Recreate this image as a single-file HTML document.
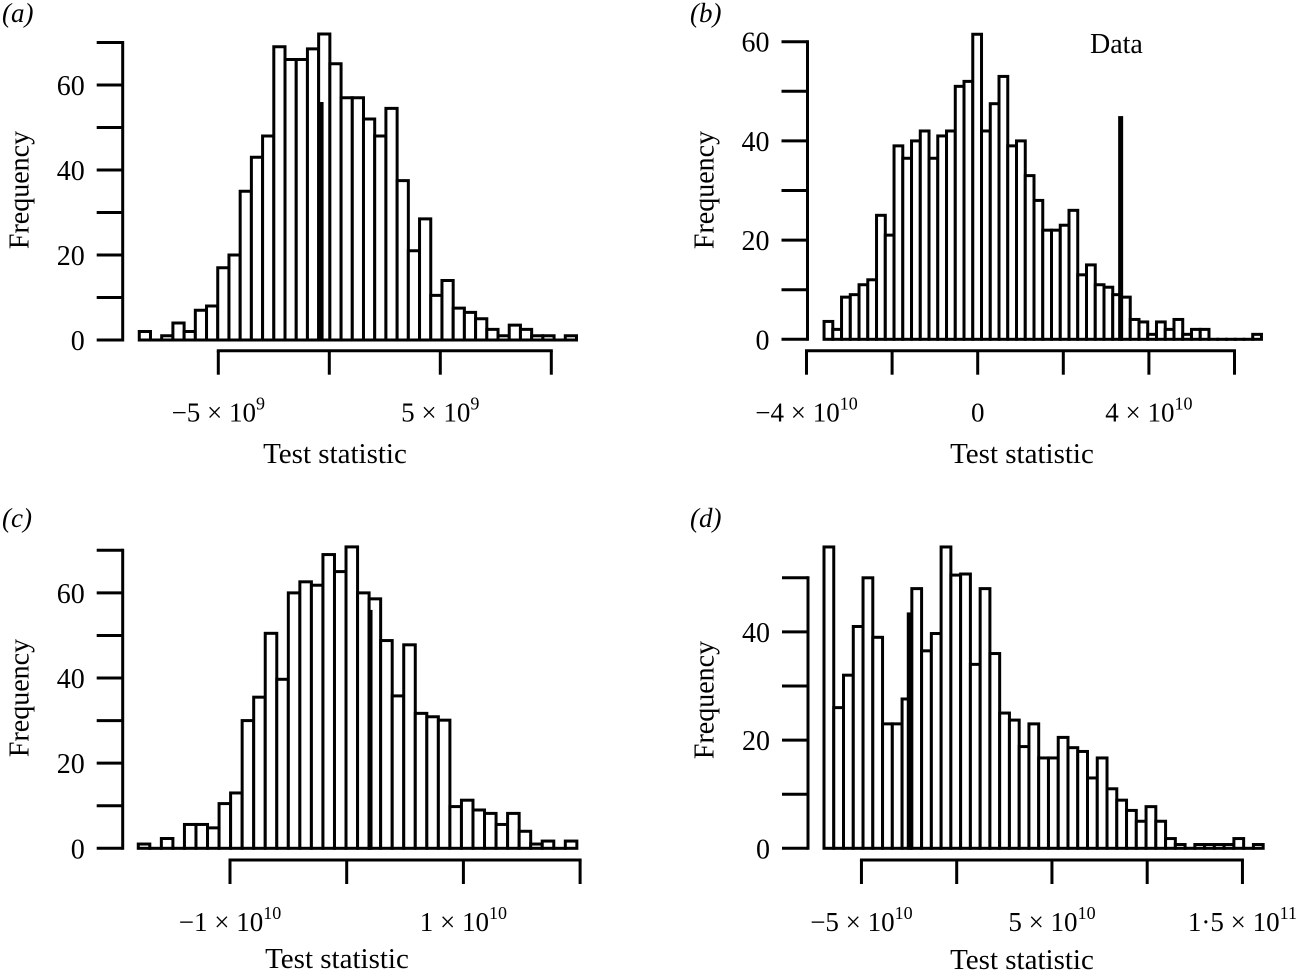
<!DOCTYPE html>
<html><head><meta charset="utf-8"><style>
html,body{margin:0;padding:0;background:#fff;}
svg{display:block;font-family:"Liberation Serif",serif;}
</style></head><body>
<svg id="chart" width="1300" height="977" viewBox="0 0 1300 977" xmlns="http://www.w3.org/2000/svg"></svg>
<script>
// Panel (a): units of 1e9
const countsA = [2,0,1,4,2,7,8,17,20,35,43,48,69,66,66,68.5,72,65,57,57,52,48,54.5,37.5,21,28.5,10.5,14,7.5,6.5,5,2.5,1,3.5,2.5,1,1,0,1];
const binStartA = -8.56, binWidthA = 0.505, observedA = -0.37, observedHA = 56;
const xTicksA = [-5,0,5,10];
const xTickLabelsA = [["−5 × 10","9"],null,["5 × 10","9"],null];
const yTicksA = [0,10,20,30,40,50,60,70];
const yTickLabelsA = ["0","","20","","40","","60",""];

// Panel (b): units of 1e10
const countsB = [3.6,2,8.5,9,11,12,25,21,39,36.5,40,42,36.5,41,42,51,52,61.5,42,47.5,53,39,40,33,28,22,22,23,26,13,15,11,10.5,9,8.5,4,3.5,1,3.5,2,4,1,2,2,0,0,0,0,0,1];
const binStartB = -3.59, binWidthB = 0.2044, observedB = 3.34, observedHB = 45;
const xTicksB = [-4,-2,0,2,4,6];
const xTickLabelsB = [["−4 × 10","10"],null,["0",""],null,["4 × 10","10"],null];
const yTicksB = [0,10,20,30,40,50,60];
const yTickLabelsB = ["0","","20","","40","","60"];

// Panel (c): units of 1e10
const countsC = [1,0,2.3,0,5.6,5.6,4.8,10.5,13,30,35.5,50.5,39.7,60,62.6,61.8,69,65,70.8,60,58.6,48.8,35.8,47.8,31.7,30.9,30.1,9.8,11.3,9,8.2,5.6,8.2,4,1,1.7,0,1.7];
const binStartC = -1.786, binWidthC = 0.0989, observedC = 0.2, observedHC = 56;
const xTicksC = [-1,0,1,2];
const xTickLabelsC = [["−1 × 10","10"],null,["1 × 10","10"],null];
const yTicksC = [0,10,20,30,40,50,60,70];
const yTickLabelsC = ["0","","20","","40","","60",""];

// Panel (d): units of 1e10
const countsD = [55.7,26,32,41,50,39,23,23,27.6,48,36.5,39.7,55.7,50.5,50.7,34,48,36,25,23.7,18.8,23,16.7,16.7,20.5,18.6,17.9,13,16.7,11,8.9,7,5,7.7,5,1.8,0.7,0,0.7,0.7,0.7,0.7,1.8,0,0.7];
const binStartD = -6.966, binWidthD = 0.5123, observedD = -2.49, observedHD = 43.6;
const xTicksD = [-5,0,5,10,15];
const xTickLabelsD = [["−5 × 10","10"],null,["5 × 10","10"],null,["1·5 × 10","11"]];
const yTicksD = [0,10,20,30,40,50];
const yTickLabelsD = ["0","","20","","40",""];

const NS = "http://www.w3.org/2000/svg";
const svg = document.getElementById("chart");
function mk(tag, attrs, parent){
  const e = document.createElementNS(NS, tag);
  for (const k in attrs) e.setAttribute(k, attrs[k]);
  (parent||svg).appendChild(e);
  return e;
}

const panels = [
  {id:"a", counts:countsA, start:binStartA, bw:binWidthA, obs:observedA, obsH:observedHA, xt:xTicksA, xl:xTickLabelsA, yt:yTicksA, yl:yTickLabelsA,
   x0:329.3, xpx:22.2, y0:340, ypx:4.25, yAxisX:122.7, xAxisY:350.7, label:"(a)", lx:2, ly:22, ytx:22, yty:190, ttx:335, tty:463},
  {id:"b", counts:countsB, start:binStartB, bw:binWidthB, obs:observedB, obsH:observedHB, xt:xTicksB, xl:xTickLabelsB, yt:yTicksB, yl:yTickLabelsB,
   x0:977.7, xpx:42.8, y0:339.3, ypx:4.96, yAxisX:807.5, xAxisY:350.7, label:"(b)", lx:690, ly:22, ytx:707, yty:190, ttx:1022, tty:463},
  {id:"c", counts:countsC, start:binStartC, bw:binWidthC, obs:observedC, obsH:observedHC, xt:xTicksC, xl:xTickLabelsC, yt:yTicksC, yl:yTickLabelsC,
   x0:346.7, xpx:116.7, y0:848.3, ypx:4.257, yAxisX:122.7, xAxisY:860, label:"(c)", lx:2, ly:527, ytx:22, yty:698, ttx:337, tty:968},
  {id:"d", counts:countsD, start:binStartD, bw:binWidthD, obs:observedD, obsH:observedHD, xt:xTicksD, xl:xTickLabelsD, yt:yTicksD, yl:yTickLabelsD,
   x0:956.7, xpx:19.05, y0:848.3, ypx:5.41, yAxisX:808, xAxisY:860, label:"(d)", lx:690, ly:527, ytx:707, yty:700, ttx:1022, tty:969}
];

panels.forEach(p => {
  const g = mk("g", {});
  
  
  const X = v => p.x0 + v * p.xpx;
  const Y = c => p.y0 - c * p.ypx;

  p.counts.forEach((c, i) => {
    const xa = X(p.start + i * p.bw), xb = X(p.start + (i + 1) * p.bw);
    const r = mk("rect", {x:xa, y:Y(c), width:xb - xa, height:Math.max(c * p.ypx, 0.01), fill:"#fff", stroke:"#000", "stroke-width":3}, g);
    
    
  });
  const ob = mk("rect", {x:X(p.obs) - 2.5, y:Y(p.obsH), width:5, height:p.obsH * p.ypx + 1.5, fill:"#000"}, g);
  
  

  const yTop = Y(p.yt[p.yt.length - 1]);
  const ya = mk("line", {x1:p.yAxisX, x2:p.yAxisX, y1:Y(0) + 1.5, y2:yTop - 1.5, stroke:"#000", "stroke-width":3}, g);
  
  
  p.yt.forEach((t, i) => {
    const tk = mk("line", {x1:p.yAxisX - 26, x2:p.yAxisX, y1:Y(t), y2:Y(t), stroke:"#000", "stroke-width":3}, g);
    
    
    if (p.yl[i]) {
      const tl = mk("text", {x:p.yAxisX - 38, y:Y(t) + 10, "font-size":28, "text-anchor":"end"}, g);
      tl.textContent = p.yl[i];
      
      
    }
  });
  const yt = mk("text", {x:p.ytx, y:p.yty, "font-size":28, "text-anchor":"middle", transform:"rotate(-90 " + p.ytx + " " + p.yty + ")", "dominant-baseline":"middle"}, g);
  yt.textContent = "Frequency";
  
  

  const xa = mk("line", {x1:X(p.xt[0]) - 1.5, x2:X(p.xt[p.xt.length - 1]) + 1.5, y1:p.xAxisY, y2:p.xAxisY, stroke:"#000", "stroke-width":3}, g);
  
  
  p.xt.forEach((t, i) => {
    const tk = mk("line", {x1:X(t), x2:X(t), y1:p.xAxisY, y2:p.xAxisY + 24, stroke:"#000", "stroke-width":3}, g);
    
    
    const lab = p.xl[i];
    if (lab) {
      const tl = mk("text", {x:X(t), y:p.xAxisY + 71, "font-size":27, "text-anchor":"middle"}, g);
      
      
      const a = mk("tspan", {}, tl); a.textContent = lab[0];
      if (lab[1]) { const s = mk("tspan", {dy:-12, "font-size":18}, tl); s.textContent = lab[1]; }
    }
  });
  const xt = mk("text", {x:p.ttx, y:p.tty, "font-size":29, "text-anchor":"middle"}, g);
  xt.textContent = "Test statistic";
  
  

  const pl = mk("text", {x:p.lx, y:p.ly, "font-size":27, "font-style":"italic"}, g);
  pl.textContent = p.label;
  
  
});

const dl = mk("text", {x:1090, y:53, "font-size":28});
dl.textContent = "Data";


</script>
</body></html>
